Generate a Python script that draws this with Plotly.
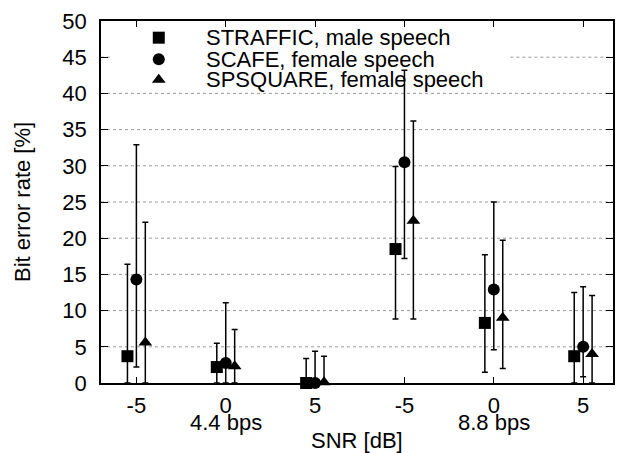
import plotly.graph_objects as go

positions = [1, 2, 3, 4, 5, 6]
tick_labels = ["-5", "0", "5", "-5", "0", "5"]
group_labels = ["4.4 bps", "8.8 bps"]
group_label_pos = [2, 5]
y_ticks = list(range(0, 51, 5))

names = ["STRAFFIC, male speech", "SCAFE, female speech", "SPSQUARE, female speech"]
offsets = [-0.1, 0.0, 0.1]
symbols = ["square", "circle", "triangle-up"]

straffic = [3.7, 2.2, 0.0, 18.5, 8.3, 3.7]
straffic_hi = [16.4, 5.5, 3.4, 29.9, 17.7, 12.5]
straffic_lo = [0.0, 0.0, 0.0, 8.85, 1.5, 0.0]

scafe = [14.3, 2.75, 0.0, 30.5, 12.9, 5.0]
scafe_hi = [32.9, 11.1, 4.4, 43.2, 25.0, 13.3]
scafe_lo = [2.2, 0.0, 0.0, 17.2, 4.6, 0.85]

spsquare = [5.6, 2.3, 0.1, 22.4, 9.0, 4.0]
spsquare_hi = [22.2, 7.4, 3.7, 36.2, 19.7, 12.1]
spsquare_lo = [0.0, 0.0, 0.0, 8.85, 2.0, 0.0]

series = [(straffic, straffic_hi, straffic_lo),
          (scafe, scafe_hi, scafe_lo),
          (spsquare, spsquare_hi, spsquare_lo)]

FONT = "Liberation Sans, Arial, Helvetica, sans-serif"
FS = 22
W, H = 624, 453
L, R, T, B = 101, 9, 14, 70

# key layout (pixels within the page)
key_marker_x = 159
key_text_x = 204
key_rows_y = [31, 53, 74]
key_mask_x = (113, 512)

fig = go.Figure()

# grid lines (dotted), masked by the key box on the 45 line
for v in y_ticks[1:-1]:
    segs = [(L, W - R)]
    if v == 45:
        segs = [(L, key_mask_x[0]), (key_mask_x[1], W - R)]
    for x0, x1 in segs:
        fig.add_shape(type="line", xref="x2", yref="y", x0=x0, x1=x1, y0=v, y1=v,
                      line=dict(color="#9a9a9a", width=1, dash="dot"), layer="below")

for (vals, hi, lo), name, off, sym in zip(series, names, offsets, symbols):
    fig.add_trace(go.Scatter(
        x=[p + off for p in positions],
        y=vals,
        mode="markers",
        name=name,
        showlegend=False,
        marker=dict(symbol=sym, size=12, color="black", line=dict(width=0)),
        error_y=dict(type="data", symmetric=False,
                     array=[h - v for h, v in zip(hi, vals)],
                     arrayminus=[v - l for v, l in zip(vals, lo)],
                     color="black", thickness=1.5, width=3),
        cliponaxis=False,
    ))

# manual key
for name, sym, ky in zip(names, symbols, key_rows_y):
    fig.add_trace(go.Scatter(x=[key_marker_x], y=[ky], xaxis="x2", yaxis="y2", mode="markers",
                             showlegend=False, hoverinfo="skip",
                             marker=dict(symbol=sym, size=12, color="black", line=dict(width=0))))
    fig.add_annotation(x=key_text_x, y=ky, xref="x2", yref="y2", text=name, showarrow=False,
                       xanchor="left", yanchor="middle",
                       font=dict(size=FS, family=FONT, color="black"))

for lbl, pos in zip(group_labels, group_label_pos):
    fig.add_annotation(x=pos, y=0, xref="x", yref="y", text=lbl, showarrow=False,
                       yanchor="middle", yshift=-39,
                       font=dict(size=FS, family=FONT, color="black"))

fig.add_annotation(x=0, y=0.5, xref="paper", yref="paper", text="Bit error rate [%]",
                   textangle=-90, showarrow=False, xanchor="center", yanchor="middle", xshift=-79,
                   font=dict(size=FS, family=FONT, color="black"))
fig.add_annotation(x=0.5, y=0, xref="paper", yref="paper", text="SNR [dB]",
                   showarrow=False, yanchor="middle", yshift=-57,
                   font=dict(size=FS, family=FONT, color="black"))

fig.update_layout(
    width=W, height=H,
    margin=dict(l=L, r=R, t=T, b=B),
    paper_bgcolor="white", plot_bgcolor="white",
    font=dict(family=FONT, size=FS, color="black"),
    showlegend=False,
    xaxis=dict(range=[0.604, 6.334], tickvals=positions, ticktext=tick_labels,
               ticks="inside", ticklen=6, tickwidth=1, tickcolor="black",
               showline=True, linecolor="black", linewidth=1.5, mirror="ticks",
               showgrid=False, zeroline=False, tickfont=dict(size=FS), ticklabelstandoff=2),
    yaxis=dict(range=[0, 50], tickvals=y_ticks,
               ticks="inside", ticklen=7, tickwidth=1, tickcolor="black",
               showline=True, linecolor="black", linewidth=1.5, mirror="ticks",
               showgrid=False, zeroline=False, tickfont=dict(size=FS), ticklabelstandoff=8),
    xaxis2=dict(overlaying="x", range=[L, W - R], visible=False, fixedrange=True),
    yaxis2=dict(overlaying="y", range=[H - B, T], visible=False, fixedrange=True),
)

fig.write_html("out.html")
